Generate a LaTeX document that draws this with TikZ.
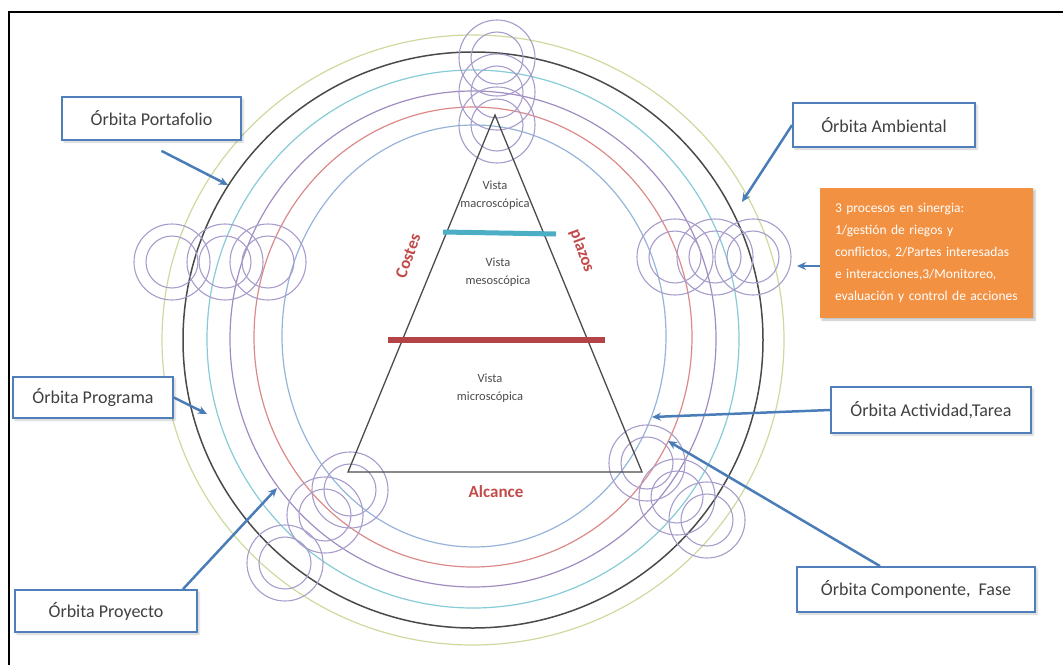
\documentclass[tikz,border=0pt]{standalone}
\usepackage{fontspec}
\setmainfont{Carlito}
\usepackage{tikz}
\usetikzlibrary{arrows.meta,shadows.blur,positioning}

\definecolor{orbyellow}{HTML}{CCDA9E}
\definecolor{orbblack}{HTML}{4A4A4A}
\definecolor{orbcyan}{HTML}{86CBD6}
\definecolor{orbpurple}{HTML}{A08CC0}
\definecolor{orbred}{HTML}{DB8A88}
\definecolor{orbblue}{HTML}{96B4DA}
\definecolor{ringcol}{HTML}{A89CCB}
\definecolor{boxblue}{HTML}{4F7FBA}
\definecolor{arrowblue}{HTML}{4A7CB8}
\definecolor{procorange}{HTML}{F39143}
\definecolor{redtext}{HTML}{C24B4A}
\definecolor{barcyan}{HTML}{4BAEC4}
\definecolor{barred}{HTML}{B34347}

\tikzset{
  orbita/.style={draw=boxblue,line width=1.8pt,fill=white,text=black!75,
    font=\fontsize{18}{20}\selectfont,inner sep=0pt,
    blur shadow={shadow xshift=2pt,shadow yshift=-2pt,shadow opacity=20}},
  vista/.style={align=center,text=black!70,font=\fontsize{12.5}{18}\selectfont},
  lado/.style={text=redtext,font=\fontsize{17}{19}\selectfont\bfseries}
}

\begin{document}
\begin{tikzpicture}[x=1pt,y=-1pt]
\useasboundingbox (0,0) rectangle (1063,665);
\draw[line width=1.6pt] (9,665) -- (9,12) -- (1063,12);

% orbitas
\begin{scope}[line width=1.2pt]
  \draw[orbyellow] (473,340) ellipse [x radius=311, y radius=305];
  \draw[orbblack,line width=1.5pt] (473,340) ellipse [x radius=290, y radius=288];
  \draw[orbcyan] (473,339) ellipse [x radius=266, y radius=269];
  \draw[orbpurple] (473,339) ellipse [x radius=243, y radius=248];
  \draw[orbred] (473,337) ellipse [x radius=219, y radius=230];
  \draw[orbblue] (474,336) ellipse [x radius=192, y radius=211];
\end{scope}

% anillos
\begin{scope}[ringcol,line width=1.1pt]
  \foreach \cx/\cy in {497/58,497/92,497/125,172/262,225/262,268/262,
      675/257,715/257,753/257,350/490,325/515,285/563,647/463,677/497,707/520}
  {
    \draw (\cx,\cy) circle [radius=38];
    \draw (\cx,\cy) circle [radius=26];
  }
\end{scope}

% piramide
\coordinate (apex) at (495,115);
\coordinate (bl) at (348,472);
\coordinate (br) at (642,472);
\draw[black!70,line width=1.3pt] (apex) -- (bl) -- (br) -- cycle;
\draw[barcyan,line width=5pt] (443,232) -- (556,234);
\draw[barred,line width=6pt] (388,340) -- (605,340);

\node[vista] (macro) at (495,195) {Vista\\macroscópica};
\node[vista] (meso) at (498,272) {Vista\\mesoscópica};
\node[vista] (micro) at (490,388) {Vista\\microscópica};
\node[lado,rotate=70] (costes) at (408,256) {Costes};
\node[lado,rotate=-70] (plazos) at (582,251) {plazos};
\node[lado] (alcance) at (496,492) {Alcance};

% cajas
\node[orbita,minimum width=179,minimum height=43] (port) at (151.5,118.5) {Órbita Portafolio};
\node[orbita,minimum width=182,minimum height=44] (amb) at (884,125) {Órbita Ambiental};
\node[orbita,minimum width=160,minimum height=41] (prog) at (93,397.5) {Órbita Programa};
\node[orbita,minimum width=200,minimum height=46] (act) at (931,410) {Órbita Actividad,Tarea};
\node[orbita,minimum width=182,minimum height=42] (proy) at (106,611) {Órbita Proyecto};
\node[orbita,minimum width=238,minimum height=45] (comp) at (916,589.5) {Órbita Componente, \ Fase};
\node[fill=procorange,text=white,minimum width=213,minimum height=130,
  text width=183pt,align=left,inner sep=0pt,font=\fontsize{13.5}{22}\selectfont,
  blur shadow={shadow xshift=2pt,shadow yshift=-2pt,shadow opacity=25}] (proc) at (926.5,253)
  {3 procesos en sinergia:\\1/gestión de riegos y\\conflictos, 2/Partes interesadas\\e interacciones,3/Monitoreo,\\evaluación y control de acciones};

% puntas de flecha sobre las orbitas
\coordinate (c-port) at (228,185);
\coordinate (c-amb) at (742,202);
\coordinate (c-proc) at (797,266);
\coordinate (c-prog) at (207,414);
\coordinate (c-act) at (652,417);
\coordinate (c-comp) at (668,441);
\coordinate (c-proy) at (277,488);

\begin{scope}[>={Stealth[length=9pt,width=8pt]},
  every edge/.style={draw=arrowblue,line width=2.5pt}]
  \path[->] ([shift={(10,10)}]port.south) edge (c-port);
  \path[->] (amb.west) edge (c-amb);
  \path[->] ([yshift=-13pt]proc.west) edge (c-proc);
  \path[->] (prog.east) edge (c-prog);
  \path[->] (act.west) edge (c-act);
  \path[->] ([xshift=-36pt]comp.north) edge (c-comp);
  \path[->] ([xshift=77pt]proy.north) edge (c-proy);
\end{scope}
\end{tikzpicture}
\end{document}
